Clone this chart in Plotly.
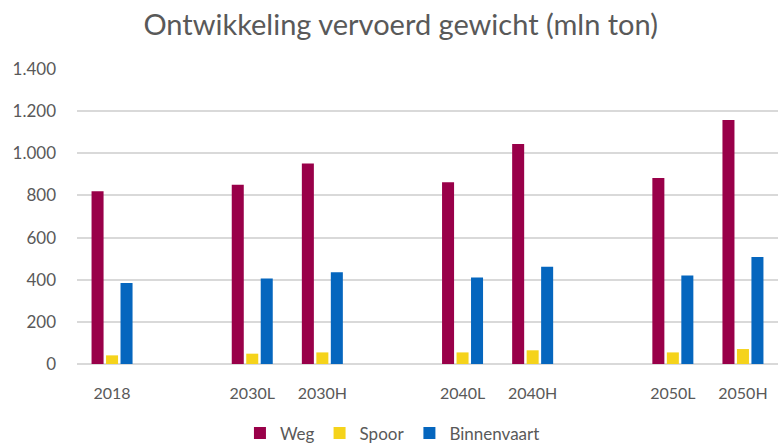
import plotly.graph_objects as go

categories = ["2018", " ", "2030L", "2030H", "  ", "2040L", "2040H", "   ", "2050L", "2050H"]
weg = [820, None, 851, 952, None, 862, 1044, None, 883, 1158]
spoor = [41, None, 49, 55, None, 55, 65, None, 55, 71]
binnenvaart = [385, None, 406, 435, None, 410, 462, None, 420, 508]

series = [("Weg", weg, "#990049"), ("Spoor", spoor, "#F5D31B"), ("Binnenvaart", binnenvaart, "#0566BE")]

fig = go.Figure()
for name, vals, col in series:
    fig.add_trace(go.Bar(x=categories, y=vals, name=name, marker=dict(color=col, line=dict(width=0))))

font = "Lato, 'Open Sans', sans-serif"
fig.update_layout(
    width=778, height=443,
    margin=dict(l=77, r=0, t=69, b=79, autoexpand=False),
    paper_bgcolor="white", plot_bgcolor="white",
    separators=",.",
    barmode="group", bargap=0.38, bargroupgap=0.17,
    title=dict(text="Ontwikkeling vervoerd gewicht (mln ton)", x=0.515, xanchor="center",
               y=0.943, yanchor="middle", font=dict(family=font, size=29, color="#595959")),
    font=dict(family=font, size=16, color="#595959"),
    legend=dict(orientation="h", x=0.45, xanchor="center", y=-0.235, yanchor="middle",
                font=dict(size=17, color="#595959"), itemwidth=30, traceorder="normal"),
    showlegend=True,
)
fig.update_xaxes(type="category", categoryorder="array", categoryarray=categories, automargin=False,
                 showgrid=False, showline=False, ticks="", tickfont=dict(size=16, color="#595959"),
                 ticklabelstandoff=18)
fig.update_yaxes(range=[0, 1400], dtick=200, tickformat=",d", showgrid=True, gridcolor="#D9D9D9",
                 gridwidth=1.5, zeroline=True, zerolinecolor="#D9D9D9", zerolinewidth=1.5,
                 automargin=False, showline=False, ticks="", tickfont=dict(size=17, color="#595959"),
                 ticklabelstandoff=20)
fig.write_html("out.html", config={"displayModeBar": False},
               post_script="document.body.style.margin='0';document.body.style.overflow='hidden';")
